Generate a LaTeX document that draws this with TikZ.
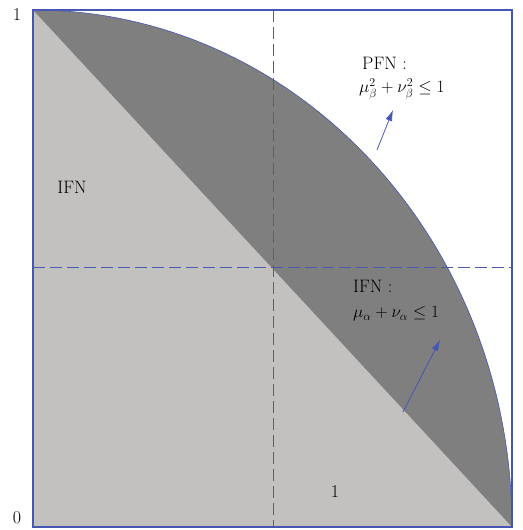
\documentclass[tikz,border=0pt]{standalone}
\usetikzlibrary{arrows.meta}
\definecolor{lgray}{RGB}{195,193,192}
\definecolor{dgray}{RGB}{128,127,127}
\definecolor{bline}{RGB}{70,86,178}
\definecolor{dline}{RGB}{72,92,172}
\tikzset{
  lbl/.style={inner sep=0pt, font=\fontsize{18}{21}\selectfont},
  txt/.style={lbl, anchor=base west},
  guide/.style={draw=dline, line width=0.9pt, dash pattern=on 12pt off 5pt},
  pointer/.style={draw=bline, line width=0.8pt, -{Latex[length=11pt,width=7pt]}},
}
\begin{document}
\begin{tikzpicture}[x=1pt,y=1pt]
\useasboundingbox (0,0) rectangle (522,530);
% regions
\fill[lgray] (33,520) -- (33,3) -- (512,3) -- cycle;
\fill[dgray] (33,520) -- (512,3) arc[start angle=0,end angle=90,x radius=479pt,y radius=517pt] -- cycle;
\draw[bline, line width=0.6pt] (512,3) arc[start angle=0,end angle=90,x radius=479pt,y radius=517pt];
% guides
\draw[guide] (273,520) -- (273,3);
\draw[guide] (33,263) -- (512,263);
% frame
\draw[bline, line width=1.3pt] (33,3) rectangle (512,520);
% axis labels
\node[lbl] (one) at (17,515) {1};
\node[lbl] (zero) at (17,12) {0};
\node[lbl] (onex) at (335,38) {1};
\node[lbl] (ifn) at (72,343) {IFN};
% PFN label
\node[txt] (pfn) at (362,460) {PFN :};
\node[txt] (pfnm) at (359,437) {$\mu_\beta^2+\nu_\beta^2\leq 1$};
% IFN label
\node[txt] (ifn2) at (353,237) {IFN :};
\node[txt] (ifnm) at (353,212) {$\mu_\alpha+\nu_\alpha\leq 1$};
% arrows
\coordinate (a1s) at (377,380);
\coordinate (a1e) at (393,420);
\coordinate (a2s) at (403,118);
\coordinate (a2e) at (440,190);
\draw[pointer] (a1s) -- (a1e);
\draw[pointer] (a2s) -- (a2e);
\end{tikzpicture}
\end{document}
